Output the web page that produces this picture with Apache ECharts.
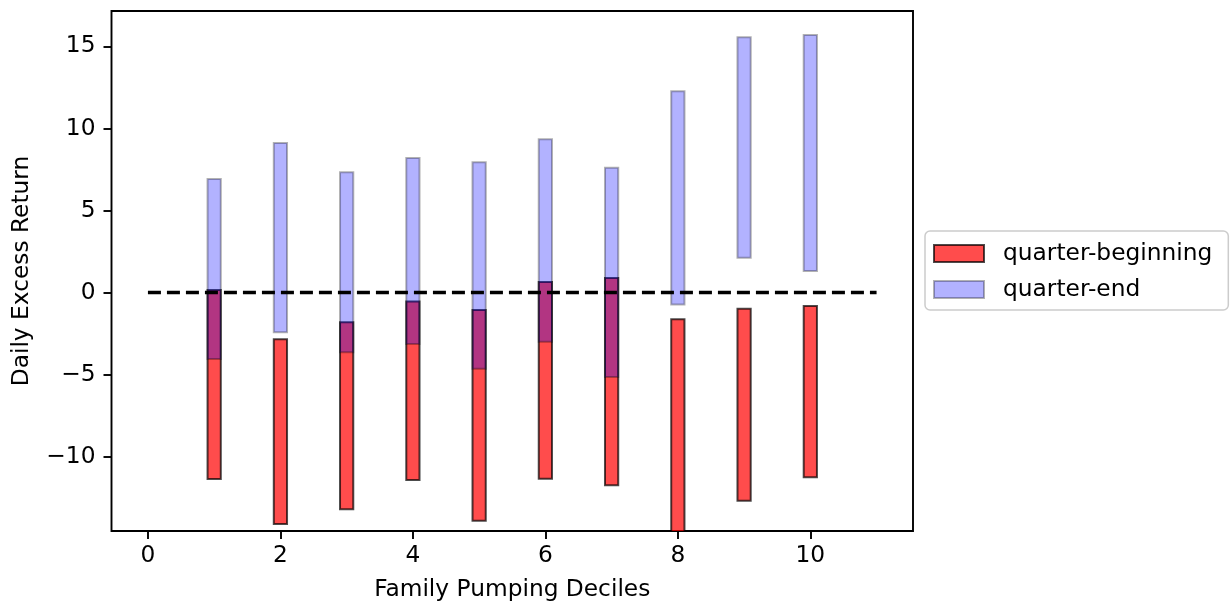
<!DOCTYPE html>
<html>
<head>
<meta charset="utf-8">
<script src="https://cdn.jsdelivr.net/npm/echarts@6/dist/echarts.min.js"></script>
<style>
html,body{margin:0;padding:0;background:#fff;}
#chart{width:1231px;height:607px;}
</style>
</head>
<body>
<div id="chart"></div>
<script>
const deciles = [1, 2, 3, 4, 5, 6, 7, 8, 9, 10];
const qbLow  = [-11.36, -14.10, -13.20, -11.42, -13.90, -11.34, -11.74, -15.00, -12.68, -11.26];
const qbHigh = [0.16, -2.85, -1.81, -0.55, -1.06, 0.65, 0.89, -1.63, -0.98, -0.82];
const qeLow  = [-4.05, -2.42, -3.64, -3.13, -4.64, -2.99, -5.14, -0.73, 2.13, 1.32];
const qeHigh = [6.92, 9.12, 7.33, 8.20, 7.94, 9.34, 7.61, 12.27, 15.56, 15.70];
const zeroLineX = [0, 11];
const xTicks = [0, 2, 4, 6, 8, 10];
const yTicks = [-10, -5, 0, 5, 10, 15];
const seriesNames = ['quarter-beginning', 'quarter-end'];

const FONT = 'DejaVu Sans';
const FS = 23.3;
const BAR_W = 0.2;

const redStyle = { fill: 'rgba(255,0,0,0.7)', stroke: 'rgba(0,0,0,0.7)', lineWidth: 2 };
const blueStyle = { fill: 'rgba(0,0,255,0.3)', stroke: 'rgba(0,0,0,0.3)', lineWidth: 2 };

function makeRender(style) {
  return function (params, api) {
    const x = api.value(0), lo = api.value(1), hi = api.value(2);
    const a = api.coord([x - BAR_W / 2, hi]);
    const b = api.coord([x + BAR_W / 2, lo]);
    return {
      type: 'rect',
      shape: { x: a[0], y: a[1], width: b[0] - a[0], height: b[1] - a[1] },
      style: style
    };
  };
}

const chart = echarts.init(document.getElementById('chart'), null, { renderer: 'canvas' });
chart.setOption({
  animation: false,
  backgroundColor: '#fff',
  textStyle: { fontFamily: FONT, color: '#000' },
  grid: {
    left: 111.5, right: 318, top: 11, bottom: 76,
    show: true, borderColor: '#000', borderWidth: 1.9, backgroundColor: 'transparent'
  },
  legend: {
    orient: 'vertical',
    left: 925, top: 231,
    padding: [11, 16, 9, 8],
    itemGap: 13,
    itemWidth: 50, itemHeight: 17,
    borderColor: '#cccccc', borderWidth: 1.5, borderRadius: 5,
    textStyle: { fontFamily: FONT, fontSize: FS, color: '#000', padding: [0, 0, 0, 14], lineHeight: 23 },
    data: [
      { name: seriesNames[0], icon: 'rect', itemStyle: { color: 'rgba(255,0,0,0.7)', borderColor: 'rgba(0,0,0,0.7)', borderWidth: 2 } },
      { name: seriesNames[1], icon: 'rect', itemStyle: { color: 'rgba(0,0,255,0.3)', borderColor: 'rgba(0,0,0,0.3)', borderWidth: 2 } }
    ]
  },
  xAxis: {
    type: 'value', min: -0.55, max: 11.55,
    name: 'Family Pumping Deciles', nameLocation: 'middle', nameGap: 47,
    nameTextStyle: { fontFamily: FONT, fontSize: FS, color: '#000' },
    axisLine: { show: false, onZero: false },
    splitLine: { show: false },
    axisTick: { show: true, inside: false, length: 8, customValues: xTicks, lineStyle: { color: '#000', width: 1.9 } },
    axisLabel: { customValues: xTicks, fontFamily: FONT, fontSize: FS, color: '#000', margin: 13 }
  },
  yAxis: {
    type: 'value', min: -14.53, max: 17.16,
    name: 'Daily Excess Return', nameLocation: 'middle', nameGap: 78,
    nameTextStyle: { fontFamily: FONT, fontSize: FS, color: '#000' },
    axisLine: { show: false, onZero: false },
    splitLine: { show: false },
    axisTick: { show: true, inside: false, length: 8, customValues: yTicks, lineStyle: { color: '#000', width: 1.9 } },
    axisLabel: {
      customValues: yTicks, fontFamily: FONT, fontSize: FS, color: '#000', margin: 16,
      formatter: v => (v < 0 ? '\u2212' + Math.abs(v) : String(v))
    }
  },
  series: [
    {
      name: seriesNames[0], type: 'custom', clip: true,
      itemStyle: { color: 'rgba(255,0,0,0.7)' },
      encode: { x: 0, y: [1, 2] },
      renderItem: makeRender(redStyle),
      data: deciles.map((d, i) => [d, qbLow[i], qbHigh[i]]),
      z: 2
    },
    {
      name: seriesNames[1], type: 'custom', clip: true,
      itemStyle: { color: 'rgba(0,0,255,0.3)' },
      encode: { x: 0, y: [1, 2] },
      renderItem: makeRender(blueStyle),
      data: deciles.map((d, i) => [d, qeLow[i], qeHigh[i]]),
      z: 3
    },
    {
      name: 'zero', type: 'line', symbol: 'none', silent: true,
      data: zeroLineX.map(x => [x, 0]),
      lineStyle: { color: '#000', width: 3.5, type: [13, 6] },
      z: 5
    }
  ]
});
</script>
</body>
</html>
